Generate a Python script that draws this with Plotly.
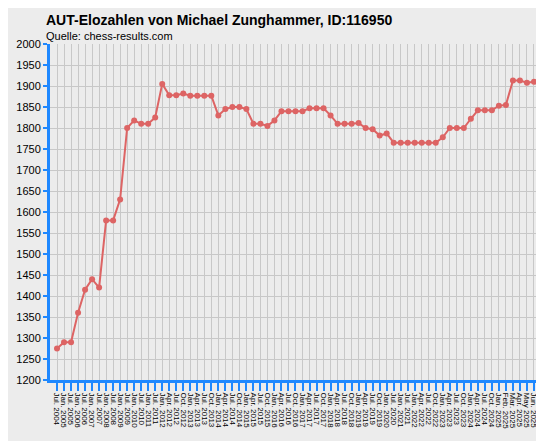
import plotly.graph_objects as go

dates = ["Jul. 2004", "Jan. 2005", "Jul. 2005", "Jan. 2006", "Jul. 2006", "Jan. 2007", "Jul. 2007",
         "Jan. 2008", "Jul. 2008", "Jan. 2009", "Jul. 2009", "Jan. 2010", "Jul. 2010", "Jan. 2011",
         "Jul. 2011", "Jan. 2012", "Apr. 2012", "Jul. 2012", "Oct. 2012", "Jan. 2013", "Apr. 2013",
         "Jul. 2013", "Oct. 2013", "Jan. 2014", "Apr. 2014", "Jul. 2014", "Oct. 2014", "Jan. 2015",
         "Apr. 2015", "Jul. 2015", "Oct. 2015", "Jan. 2016", "Apr. 2016", "Jul. 2016", "Oct. 2016",
         "Jan. 2017", "Apr. 2017", "Jul. 2017", "Oct. 2017", "Jan. 2018", "Apr. 2018", "Jul. 2018",
         "Oct. 2018", "Jan. 2019", "Apr. 2019", "Jul. 2019", "Oct. 2019", "Jan. 2020", "Jul. 2020",
         "Jan. 2021", "Jul. 2021", "Jan. 2022", "Apr. 2022", "Jul. 2022", "Oct. 2022", "Jan. 2023",
         "Apr. 2023", "Jul. 2023", "Oct. 2023", "Jan. 2024", "Apr. 2024", "Jul. 2024", "Oct. 2024",
         "Jan. 2025", "Feb. 2025", "Mar. 2025", "Apr. 2025", "May 2025", "Jun. 2025", "Jul. 2025"]

elo = [1275, 1290, 1290, 1360, 1415, 1440, 1420, 1580, 1580, 1630,
       1800, 1818, 1810, 1810, 1825, 1905, 1878, 1878, 1882, 1877,
       1877, 1877, 1877, 1830, 1845, 1850, 1850, 1845, 1810, 1810,
       1805, 1818, 1840, 1840, 1840, 1840, 1847, 1847, 1847, 1830,
       1810, 1810, 1810, 1812, 1800, 1797, 1782, 1787, 1765, 1765,
       1765, 1765, 1765, 1765, 1765, 1778, 1800, 1800, 1800, 1822,
       1842, 1842, 1842, 1853, 1855, 1913, 1913, 1908, 1910, 1910]

idx = list(range(len(elo)))

fig = go.Figure(go.Scatter(
    x=idx, y=elo, mode="lines+markers",
    line=dict(color="#dd6464", width=2),
    marker=dict(color="#dd6464", size=6),
    hoverinfo="x+y"
))

fig.update_layout(
    width=544, height=441,
    paper_bgcolor="#ececec", plot_bgcolor="#ececec",
    margin=dict(l=42, r=4, t=36, b=69),
    font=dict(family="Liberation Sans, Arial", size=11, color="#000"),
    showlegend=False,
    annotations=[
        dict(text="<b>AUT-Elozahlen von Michael Zunghammer, ID:116950</b>", x=0, y=1,
             xref="paper", yref="paper", xanchor="left", yanchor="bottom", yshift=14, xshift=-6,
             showarrow=False, font=dict(size=14)),
        dict(text="Quelle: chess-results.com", x=0, y=1, xref="paper", yref="paper",
             xanchor="left", yanchor="bottom", yshift=0, xshift=-6,
             showarrow=False, font=dict(size=11)),
    ],
)

fig.update_xaxes(
    range=[-1, 70], tickvals=idx, ticktext=dates, tickangle=90, automargin=False,
    tickfont=dict(size=8), showgrid=True, gridcolor="#c8c8c8", gridwidth=1,
    showline=True, linecolor="#1e88ff", linewidth=3,
    ticks="outside", tickcolor="#1e88ff", ticklen=8, tickwidth=2, zeroline=False,
)
fig.update_yaxes(
    range=[1200, 2000], dtick=50, automargin=False, showgrid=True, gridcolor="#c8c8c8", gridwidth=1,
    showline=True, linecolor="#1e88ff", linewidth=3,
    ticks="outside", tickcolor="#1e88ff", ticklen=4, tickwidth=2, zeroline=False,
)

fig.write_html("out.html")
